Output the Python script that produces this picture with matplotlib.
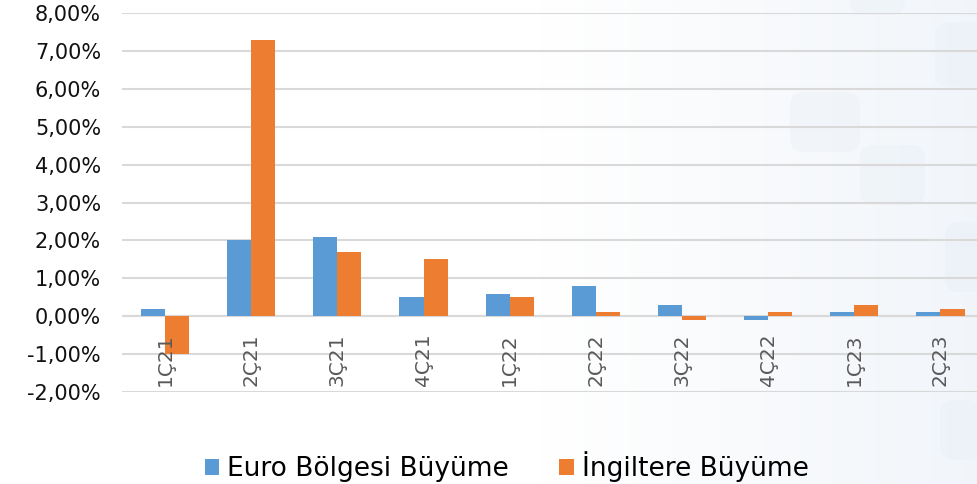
import matplotlib.pyplot as plt
import numpy as np
from matplotlib.ticker import FuncFormatter
from matplotlib.patches import FancyBboxPatch

# çeyreklik büyüme verileri (%)
ceyrekler = ['1Ç21', '2Ç21', '3Ç21', '4Ç21', '1Ç22', '2Ç22', '3Ç22', '4Ç22', '1Ç23', '2Ç23']
euro = [0.2, 2.0, 2.1, 0.5, 0.6, 0.8, 0.3, -0.1, 0.1, 0.1]
ingiltere = [-1.0, 7.3, 1.7, 1.5, 0.5, 0.1, -0.1, 0.1, 0.3, 0.2]

mavi = '#5b9bd5'
turuncu = '#ed7d31'

fig = plt.figure(figsize=(9.78, 4.84), dpi=100)

# arka plan: sağa doğru çok hafif mavimsi geçiş ve soluk kutular
bg = fig.add_axes([0, 0, 1, 1], zorder=-1)
bg.set_xlim(0, 978)
bg.set_ylim(484, 0)
bg.axis('off')
t = np.clip((np.linspace(0, 1, 400) - 0.55) / 0.45, 0, 1) * 0.75
rgba = np.zeros((1, 400, 4))
rgba[..., 0] = 0.93
rgba[..., 1] = 0.95
rgba[..., 2] = 0.975
rgba[..., 3] = t
bg.imshow(rgba, extent=(0, 978, 484, 0), aspect='auto', interpolation='bilinear')
for (x0, y0, bw, bh) in [(850, -20, 55, 35), (935, 22, 60, 65), (790, 92, 70, 60),
                          (860, 145, 65, 60), (945, 222, 40, 70), (940, 400, 40, 60)]:
    bg.add_patch(FancyBboxPatch((x0, y0), bw, bh, boxstyle='round,pad=0,rounding_size=14',
                                facecolor='#dde8f5', edgecolor='none', alpha=0.2))

ax = fig.add_axes([0.1247, 0.19, 0.881, 0.783])
ax.patch.set_alpha(0)

x = np.arange(len(ceyrekler))
w = 0.28
ax.bar(x - w / 2, euro, w, color=mavi, label='Euro Bölgesi Büyüme', zorder=3)
ax.bar(x + w / 2, ingiltere, w, color=turuncu, label='İngiltere Büyüme', zorder=3)

ax.set_ylim(-2, 8)
ax.set_xlim(-0.5, len(ceyrekler) - 0.5)
ax.set_yticks(np.arange(-2, 9, 1))
ax.yaxis.set_major_formatter(FuncFormatter(lambda v, p: f'{v:.2f}%'.replace('.', ',')))
ax.tick_params(axis='y', length=0, labelsize=15, pad=15, labelcolor='#111111')
ax.set_xticks([])
ax.grid(axis='y', color='#d9d9d9', linewidth=1.5, zorder=0)
ax.axhline(0, color='#d9d9d9', linewidth=1.5, zorder=1)
for s in ax.spines.values():
    s.set_visible(False)

# kategori etiketleri sıfır çizgisinin hemen altında
for i, c in enumerate(ceyrekler):
    ax.text(i, -0.45, c, rotation=90, ha='center', va='top', fontsize=14.5, color='#595959')

fig.legend(loc='center', bbox_to_anchor=(0.518, 0.035), ncol=2, frameon=False,
           fontsize=19, handlelength=0.55, handleheight=0.55, handletextpad=0.3,
           columnspacing=1.9)

fig.savefig('out.png')
